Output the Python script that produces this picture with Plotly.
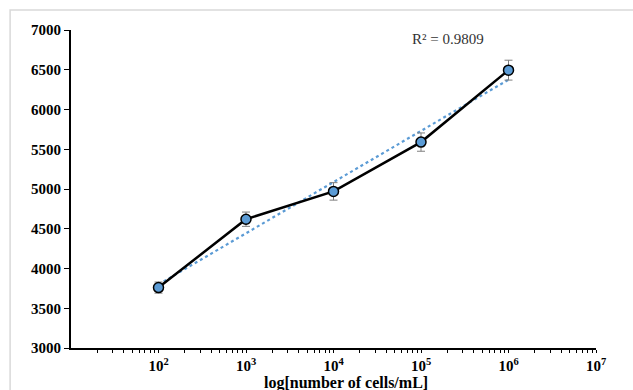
import numpy as np
import plotly.graph_objects as go

cells = [1e2, 1e3, 1e4, 1e5, 1e6]
signal = [3760, 4620, 4970, 5590, 6495]
err = [70, 90, 110, 115, 125]
r2_label = "R² = 0.9809"
x_title = "log[number of cells/mL]"
x_tick_vals = [1e2, 1e3, 1e4, 1e5, 1e6, 1e7]
x_tick_text = ["10<sup>2</sup>", "10<sup>3</sup>", "10<sup>4</sup>", "10<sup>5</sup>", "10<sup>6</sup>", "10<sup>7</sup>"]
y_ticks = [3000, 3500, 4000, 4500, 5000, 5500, 6000, 6500, 7000]

# minor log ticks (2..9 within each decade from 10^1 to 10^7)
minor_vals = [m * 10.0 ** d for d in range(1, 7) for m in range(2, 10)]

# linear trendline in log10(x)
lx = np.log10(cells)
b, a = np.polyfit(lx, signal, 1)
trend_y = a + b * lx

font = "Liberation Serif"

fig = go.Figure()
fig.add_trace(go.Scatter(
    x=cells, y=trend_y, mode="lines",
    line=dict(color="#5b9bd5", width=2.2, dash="dot"),
    hoverinfo="skip", showlegend=False))
fig.add_trace(go.Scatter(
    x=cells, y=signal, mode="lines+markers",
    line=dict(color="black", width=2.5),
    marker=dict(size=10, color="#5b9bd5", line=dict(color="black", width=1.5)),
    error_y=dict(type="data", array=err, color="#7f7f7f", thickness=1, width=4),
    showlegend=False))

fig.update_layout(
    width=633, height=390,
    margin=dict(l=71, r=37, t=30, b=42),
    paper_bgcolor="white", plot_bgcolor="white",
    font=dict(family=font, color="black"),
    xaxis=dict(
        type="log", range=[1, 7], automargin=False,
        tickvals=x_tick_vals, ticktext=x_tick_text,
        tickfont=dict(size=15, family=font, weight="bold"),
        showgrid=False, zeroline=False,
        showline=True, linecolor="black", linewidth=1.8,
        ticks="outside", ticklen=3, tickwidth=1.2, tickcolor="black",
        minor=dict(tickvals=minor_vals, ticks="outside", ticklen=3, tickwidth=1,
                   tickcolor="black", showgrid=False),
    ),
    yaxis=dict(
        range=[3000, 7000], tickvals=y_ticks, automargin=False,
        tickfont=dict(size=15, family=font, weight="bold"),
        showgrid=False, zeroline=False,
        showline=True, linecolor="black", linewidth=1.8,
        ticks="outside", ticklen=5, tickwidth=1.2, tickcolor="black",
    ),
    annotations=[
        dict(text=r2_label, xref="paper", yref="paper", x=0.718, y=0.972,
             xanchor="center", yanchor="middle", showarrow=False,
             font=dict(size=15, family=font, color="#333333")),
        dict(text=x_title, xref="paper", yref="paper", x=0.524, y=-0.109,
             xanchor="center", yanchor="middle", showarrow=False,
             font=dict(size=16, family=font, weight="bold", color="black")),
    ],
    shapes=[dict(type="rect", xref="paper", yref="paper",
                 x0=-0.116, x1=1.2, y0=-0.3, y1=1.063,
                 line=dict(color="#d9d9d9", width=1.5), layer="below")],
)

fig.write_html("out.html")
